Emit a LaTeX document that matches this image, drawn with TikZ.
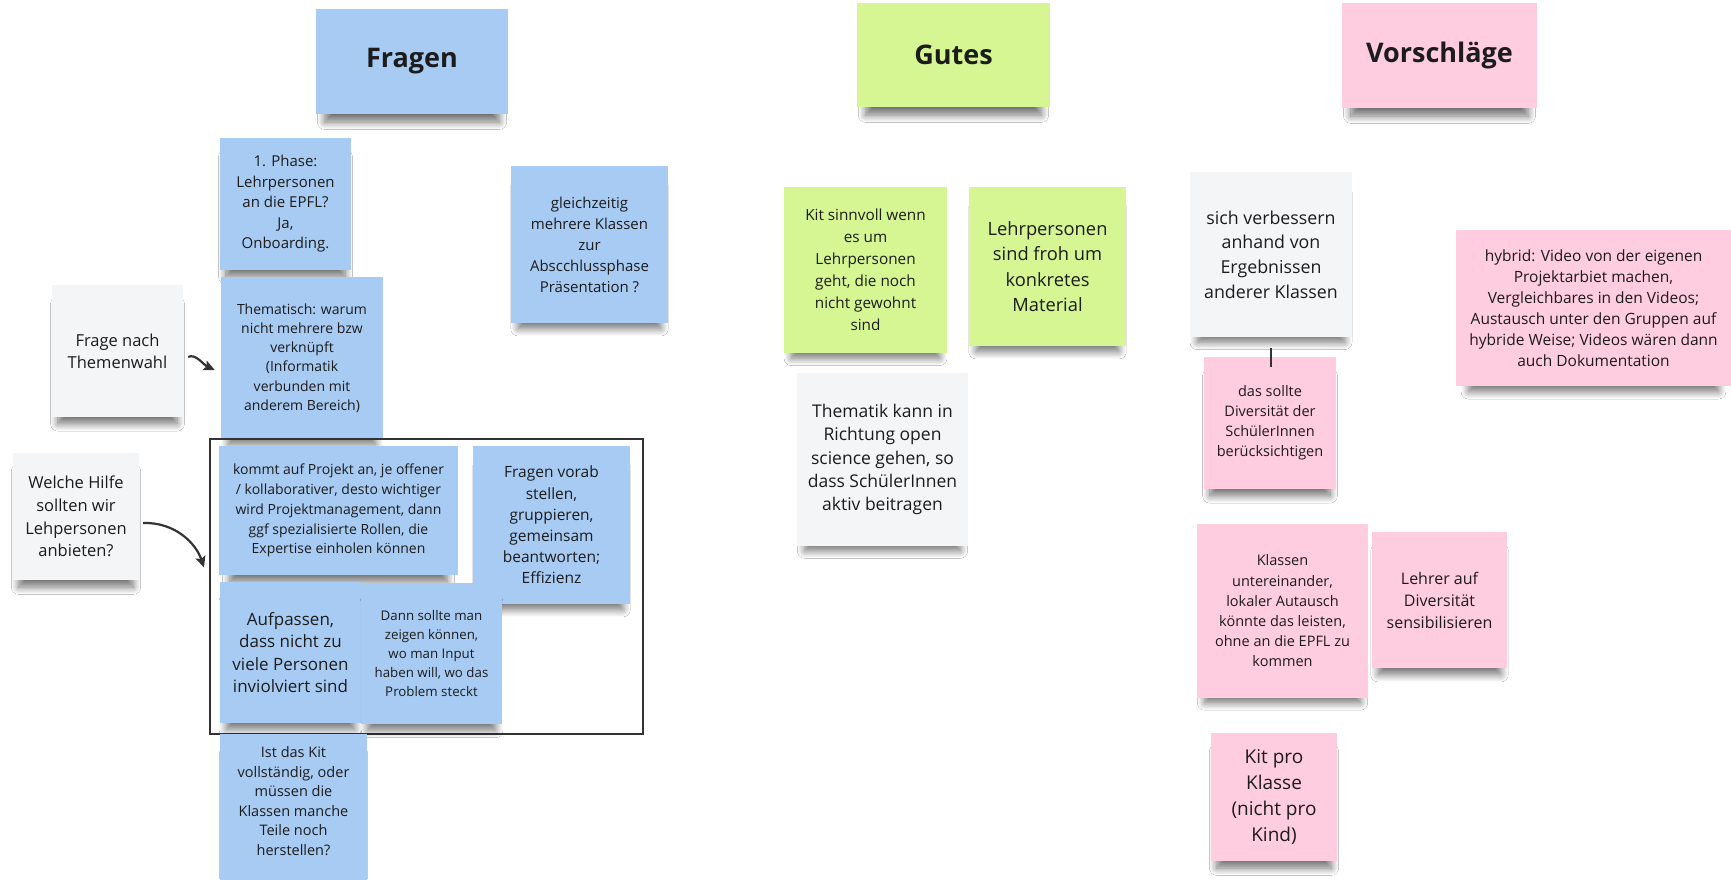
\documentclass[tikz,border=0pt]{standalone}
\usepackage{fontspec}
\setmainfont{Open Sans}
\usetikzlibrary{shadows.blur,arrows.meta,calc}
\definecolor{sblue}{HTML}{A8CBF3}
\definecolor{sgreen}{HTML}{D5F692}
\definecolor{spink}{HTML}{FFCCE0}
\definecolor{sgrey}{HTML}{F4F5F7}
\definecolor{txtc}{HTML}{1C1C1C}
\definecolor{linec}{HTML}{333333}
\newcommand{\fsz}[2]{\fontsize{#1}{#2}\selectfont}
\begin{document}
\begin{tikzpicture}[x=1pt,y=-1pt,
  note/.style={rectangle, inner sep=0pt, align=center, text=txtc,
    blur shadow={shadow xshift=0pt, shadow yshift=-14pt, shadow scale=0.91,
      shadow opacity=55, shadow blur radius=8pt, shadow blur steps=14}},
  bluenote/.style={note, fill=sblue},
  greennote/.style={note, fill=sgreen},
  pinknote/.style={note, fill=spink},
  greynote/.style={note, fill=sgrey},
  head/.style={font=\bfseries\fsz{27}{32}},
  arr/.style={draw=linec, line width=2.2pt, -{Stealth[length=11pt,width=10pt,inset=2pt]}},
  plain/.style={inner sep=0pt, align=center, text=txtc}]
\useasboundingbox (0,0) rectangle (1731,879);
\fill[white] (0,0) rectangle (1731,879);

% headers
\node[bluenote, head, minimum width=192pt, minimum height=105pt] (hf) at (412,61.5) {Fragen};
\node[greennote, head, minimum width=193pt, minimum height=104pt] (hg) at (953.5,55) {Gutes};
\node[pinknote, head, minimum width=195pt, minimum height=105pt] (hv) at (1439.5,55.5) {Vorschläge};

% Fragen column
\node[bluenote, minimum width=131pt, minimum height=132pt, font=\fsz{15}{20.5}] (p1) at (285.5,204)
  {1. Phase:\\Lehrpersonen\\an die EPFL?\\Ja,\\Onboarding.};
\node[bluenote, minimum width=157pt, minimum height=157pt, font=\fsz{15}{21}] (gz) at (589.5,244.5)
  {gleichzeitig\\mehrere Klassen\\zur\\Abscchlussphase\\Präsentation ?};
\node[greynote, minimum width=131pt, minimum height=132pt, font=\fsz{16.5}{22}] (fn) at (117.5,351)
  {Frage nach\\Themenwahl};
\node[bluenote, minimum width=162pt, minimum height=162pt, font=\fsz{14}{19.2}] (th) at (302,358)
  {Thematisch: warum\\nicht mehrere bzw\\verknüpft\\(Informatik\\verbunden mit\\anderem Bereich)};
\node[greynote, minimum width=126pt, minimum height=127pt, font=\fsz{16.5}{22.8}] (wh) at (76,516.5)
  {Welche Hilfe\\sollten wir\\Lehpersonen\\anbieten?};

\node[draw=linec, line width=2pt, minimum width=433pt, minimum height=295pt, inner sep=0pt] (grp) at (426.5,586.5) {};

\node[bluenote, minimum width=239pt, minimum height=129pt, font=\fsz{14}{19.9}] (ka) at (338.5,510.5)
  {kommt auf Projekt an, je offener\\/ kollaborativer, desto wichtiger\\wird Projektmanagement, dann\\ggf spezialisierte Rollen, die\\Expertise einholen können};
\node[bluenote, minimum width=157pt, minimum height=158pt, font=\fsz{15.5}{21.2}] (fv) at (551.5,525)
  {Fragen vorab\\stellen,\\gruppieren,\\gemeinsam\\beantworten;\\Effizienz};
\node[bluenote, minimum width=141pt, minimum height=141pt, font=\fsz{17}{22.4}] (au) at (290.5,652.5)
  {Aufpassen,\\dass nicht zu\\viele Personen\\inviolviert sind};
\node[bluenote, minimum width=141pt, minimum height=141pt, font=\fsz{13.3}{18.8}] (dm) at (431.5,653.5)
  {Dann sollte man\\zeigen können,\\wo man Input\\haben will, wo das\\Problem steckt};
\node[bluenote, minimum width=147pt, minimum height=160pt] (ikbg) at (293.5,814) {};
\node[plain, font=\fsz{14.5}{19.6}] (ik) at (293.5,801)
  {Ist das Kit\\vollständig, oder\\müssen die\\Klassen manche\\Teile noch\\herstellen?};

% Gutes column
\node[greennote, minimum width=163pt, minimum height=166pt, font=\fsz{15.3}{21.9}] (ks) at (865.5,270)
  {Kit sinnvoll wenn\\es um\\Lehrpersonen\\geht, die noch\\nicht gewohnt\\sind};
\node[greennote, minimum width=157pt, minimum height=159pt, font=\fsz{18.3}{25.4}] (lf) at (1047.5,266.5)
  {Lehrpersonen\\sind froh um\\konkretes\\Material};
\node[greynote, minimum width=171pt, minimum height=173pt, font=\fsz{17.5}{23.2}] (tk) at (882.5,459.5)
  {Thematik kann in\\Richtung open\\science gehen, so\\dass SchülerInnen\\aktiv beitragen};

% Vorschlaege column
\node[greynote, minimum width=162pt, minimum height=165pt, font=\fsz{17.8}{24.6}] (sv) at (1271,254.5)
  {sich verbessern\\anhand von\\Ergebnissen\\anderer Klassen};
\node[pinknote, minimum width=132pt, minimum height=132pt, font=\fsz{14.5}{19.9}] (dso) at (1270,423)
  {das sollte\\Diversität der\\SchülerInnen\\berücksichtigen};
\node[pinknote, minimum width=275pt, minimum height=156pt, font=\fsz{15.5}{21}] (hy) at (1593.5,308)
  {hybrid: Video von der eigenen\\Projektarbiet machen,\\Vergleichbares in den Videos;\\Austausch unter den Gruppen auf\\hybride Weise; Videos wären dann\\auch Dokumentation};
\node[pinknote, minimum width=171pt, minimum height=174pt, font=\fsz{14.5}{20.2}] (kl) at (1282.5,611)
  {Klassen\\untereinander,\\lokaler Autausch\\könnte das leisten,\\ohne an die EPFL zu\\kommen};
\node[pinknote, minimum width=135pt, minimum height=136pt, font=\fsz{16}{22}] (ld) at (1439.5,600)
  {Lehrer auf\\Diversität\\sensibilisieren};
\node[pinknote, minimum width=126pt, minimum height=128pt, font=\fsz{19}{26.1}] (kp) at (1274,797)
  {Kit pro\\Klasse\\(nicht pro\\Kind)};

% connectors
\draw[arr] ([shift={(5,6)}]fn.east) .. controls +(7,-4) and +(-11,-5) .. ([shift={(-6,12)}]th.west);
\draw[arr] ([shift={(4,6.5)}]wh.east) .. controls +(32,-1) and +(-8,-24) .. ([shift={(-5,-19)}]grp.west);
\draw[draw=linec, line width=2pt] ([shift={(0,11)}]sv.south) -- ([shift={(1,10)}]dso.north);
\end{tikzpicture}
\end{document}
